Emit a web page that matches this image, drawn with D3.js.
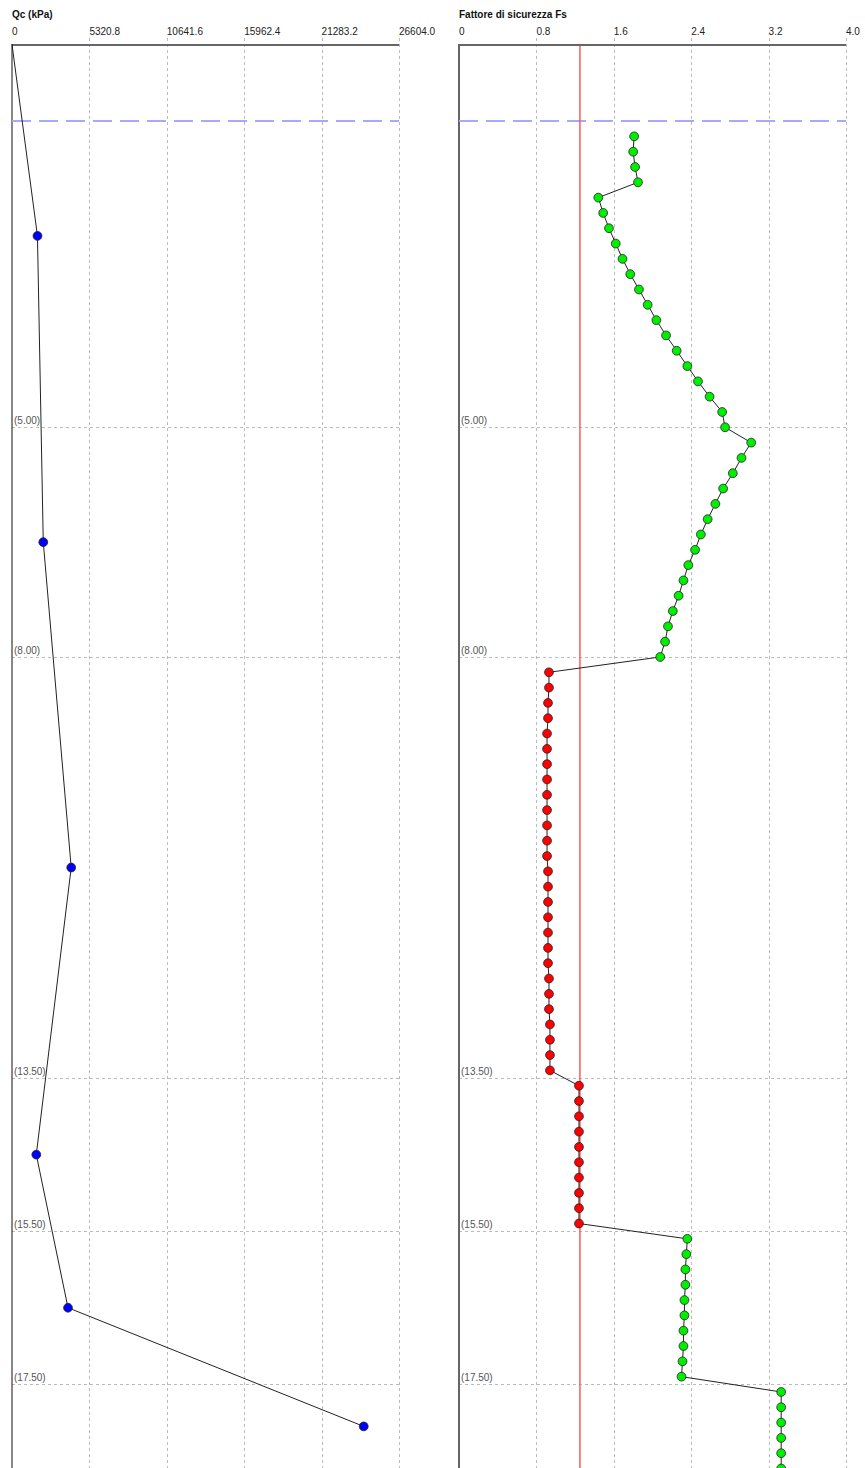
<!DOCTYPE html>
<html>
<head>
<meta charset="utf-8">
<script src="https://cdn.jsdelivr.net/npm/d3@7"></script>
<style>
  body { margin: 0; background: #fff; }
  svg { display: block; font-family: "Liberation Sans", Arial, sans-serif; }
</style>
</head>
<body>
<div id="chart"></div>
<script>
// Qc profile
const qcDepth = [0, 2.5, 6.5, 10.75, 14.5, 16.5, 18.05]
const qcValue = [0, 1750, 2150, 4070, 1670, 3850, 24180]
const qcTicks = [0, 5320.8, 10641.6, 15962.4, 21283.2, 26604.0]
const qcTickLabels = ["0", "5320.8", "10641.6", "15962.4", "21283.2", "26604.0"]

// safety factor profile
const fsDepth = [1.2, 1.4, 1.6, 1.8, 2.0, 2.2, 2.4, 2.6, 2.8, 3.0,
  3.2, 3.4, 3.6, 3.8, 4.0, 4.2, 4.4, 4.6, 4.8, 5.0,
  5.2, 5.4, 5.6, 5.8, 6.0, 6.2, 6.4, 6.6, 6.8, 7.0,
  7.2, 7.4, 7.6, 7.8, 8.0, 8.2, 8.4, 8.6, 8.8, 9.0,
  9.2, 9.4, 9.6, 9.8, 10.0, 10.2, 10.4, 10.6, 10.8, 11.0,
  11.2, 11.4, 11.6, 11.8, 12.0, 12.2, 12.4, 12.6, 12.8, 13.0,
  13.2, 13.4, 13.6, 13.8, 14.0, 14.2, 14.4, 14.6, 14.8, 15.0,
  15.2, 15.4, 15.6, 15.8, 16.0, 16.2, 16.4, 16.6, 16.8, 17.0,
  17.2, 17.4, 17.6, 17.8, 18.0, 18.2, 18.4, 18.6]
const fsValue = [1.81, 1.80, 1.82, 1.85, 1.44, 1.49, 1.55, 1.62, 1.69, 1.77,
  1.86, 1.95, 2.04, 2.14, 2.25, 2.36, 2.47, 2.59, 2.72, 2.75,
  3.02, 2.92, 2.83, 2.73, 2.65, 2.57, 2.50, 2.44, 2.37, 2.32,
  2.27, 2.21, 2.16, 2.13, 2.08, 0.93, 0.93, 0.92, 0.92, 0.91,
  0.91, 0.91, 0.91, 0.91, 0.91, 0.91, 0.91, 0.91, 0.92, 0.92,
  0.92, 0.92, 0.92, 0.92, 0.92, 0.93, 0.93, 0.93, 0.94, 0.94,
  0.94, 0.94, 1.24, 1.24, 1.24, 1.24, 1.24, 1.24, 1.24, 1.24,
  1.24, 1.24, 2.36, 2.35, 2.34, 2.34, 2.33, 2.33, 2.32, 2.32,
  2.31, 2.30, 3.33, 3.33, 3.33, 3.33, 3.33, 3.33]
const fsTicks = [0, 0.8, 1.6, 2.4, 3.2, 4.0]
const fsTickLabels = ["0", "0.8", "1.6", "2.4", "3.2", "4.0"]
const fsLimit = 1.25

// layers and water table
const layerDepths = [5.0, 8.0, 13.5, 15.5, 17.5]
const layerLabels = ["(5.00)", "(8.00)", "(13.50)", "(15.50)", "(17.50)"]
const waterDepth = 1.0

const width = 865
const height = 1468

const svg = d3.select("#chart")
  .append("svg")
  .attr("width", width)
  .attr("height", height)

const y = d3.scaleLinear()
  .domain([0, 17.5])
  .range([44.5, 1384.3])

const drawPanel = (opts) => {
  const x = d3.scaleLinear().domain(opts.domain).range(opts.range)
  const g = svg.append("g")
  const [x0, x1] = opts.range

  g.append("text")
    .attr("x", x0)
    .attr("y", 18)
    .attr("font-size", 10)
    .attr("font-weight", "bold")
    .attr("fill", "#111")
    .text(opts.title)

  // vertical grid
  g.selectAll(".vgrid")
    .data(opts.ticks.slice(1))
    .join("line")
    .attr("class", "vgrid")
    .attr("x1", d => Math.round(x(d)) + 0.5)
    .attr("x2", d => Math.round(x(d)) + 0.5)
    .attr("y1", 38)
    .attr("y2", height)
    .attr("stroke", "#bbb")
    .attr("stroke-dasharray", "3,3")

  // layer boundaries
  g.selectAll(".hgrid")
    .data(layerDepths)
    .join("line")
    .attr("class", "hgrid")
    .attr("x1", x0)
    .attr("x2", x1)
    .attr("y1", d => Math.round(y(d)) + 0.5)
    .attr("y2", d => Math.round(y(d)) + 0.5)
    .attr("stroke", "#bbb")
    .attr("stroke-dasharray", "3,3")

  g.selectAll(".hlabel")
    .data(layerDepths)
    .join("text")
    .attr("class", "hlabel")
    .attr("x", x0 + 2)
    .attr("y", d => y(d) - 3)
    .attr("font-size", 10)
    .attr("fill", "#555")
    .text((d, i) => layerLabels[i])

  // top axis, labels start at the tick
  const axis = d3.axisTop(x)
    .tickValues(opts.ticks)
    .tickFormat((d, i) => opts.labels[i])
    .tickSize(0)
    .tickPadding(0)

  const ax = g.append("g")
    .attr("transform", "translate(0,45)")
    .call(axis)
  ax.select(".domain").remove()
  ax.selectAll("text")
    .attr("text-anchor", "start")
    .attr("y", -10)
    .attr("dy", 0)
    .attr("x", -0.5)
    .attr("font-size", 10)
    .attr("font-family", "Liberation Sans, Arial, sans-serif")
    .attr("fill", "#222")

  g.append("line")
    .attr("x1", x0)
    .attr("x2", x1)
    .attr("y1", 45)
    .attr("y2", 45)
    .attr("stroke", "#666")
    .attr("stroke-width", 2)

  g.append("line")
    .attr("x1", x0)
    .attr("x2", x0)
    .attr("y1", 44)
    .attr("y2", height)
    .attr("stroke", opts.leftColor)
    .attr("stroke-width", opts.leftWidth)

  // water table
  g.append("line")
    .attr("x1", x0)
    .attr("x2", x1)
    .attr("y1", y(waterDepth))
    .attr("y2", y(waterDepth))
    .attr("stroke", "#a8a8ff")
    .attr("stroke-width", 2)
    .attr("stroke-dasharray", "19,8")

  return { g, x }
}

// left panel: Qc
const left = drawPanel({
  title: "Qc (kPa)",
  domain: [0, 26604],
  range: [12, 399],
  ticks: qcTicks,
  labels: qcTickLabels,
  leftColor: "#111",
  leftWidth: 1
})

const qcData = qcDepth.map((d, i) => ({ depth: d, value: qcValue[i] }))

left.g.append("path")
  .datum(qcData)
  .attr("fill", "none")
  .attr("stroke", "#222")
  .attr("stroke-width", 1)
  .attr("d", d3.line().x(d => left.x(d.value)).y(d => y(d.depth)))

left.g.selectAll(".qc")
  .data(qcData.filter(d => d.value > 0))
  .join("circle")
  .attr("class", "qc")
  .attr("cx", d => left.x(d.value))
  .attr("cy", d => y(d.depth))
  .attr("r", 4.4)
  .attr("fill", "#0000ff")
  .attr("stroke", "#222")
  .attr("stroke-width", 0.8)

// right panel: safety factor
const right = drawPanel({
  title: "Fattore di sicurezza Fs",
  domain: [0, 4],
  range: [459, 846],
  ticks: fsTicks,
  labels: fsTickLabels,
  leftColor: "#666",
  leftWidth: 2
})

right.g.append("line")
  .attr("x1", right.x(fsLimit))
  .attr("x2", right.x(fsLimit))
  .attr("y1", 46)
  .attr("y2", height)
  .attr("stroke", "#ff5a5a")
  .attr("stroke-width", 1.5)

const fsData = fsDepth.map((d, i) => ({ depth: d, value: fsValue[i] }))

right.g.append("path")
  .datum(fsData)
  .attr("fill", "none")
  .attr("stroke", "#222")
  .attr("stroke-width", 1)
  .attr("d", d3.line().x(d => right.x(d.value)).y(d => y(d.depth)))

right.g.selectAll(".fs")
  .data(fsData)
  .join("circle")
  .attr("class", "fs")
  .attr("cx", d => right.x(d.value))
  .attr("cy", d => y(d.depth))
  .attr("r", 4.4)
  .attr("fill", d => d.value < fsLimit ? "#ff0000" : "#00ee00")
  .attr("stroke", "#222")
  .attr("stroke-width", 0.8)
</script>
</body>
</html>
